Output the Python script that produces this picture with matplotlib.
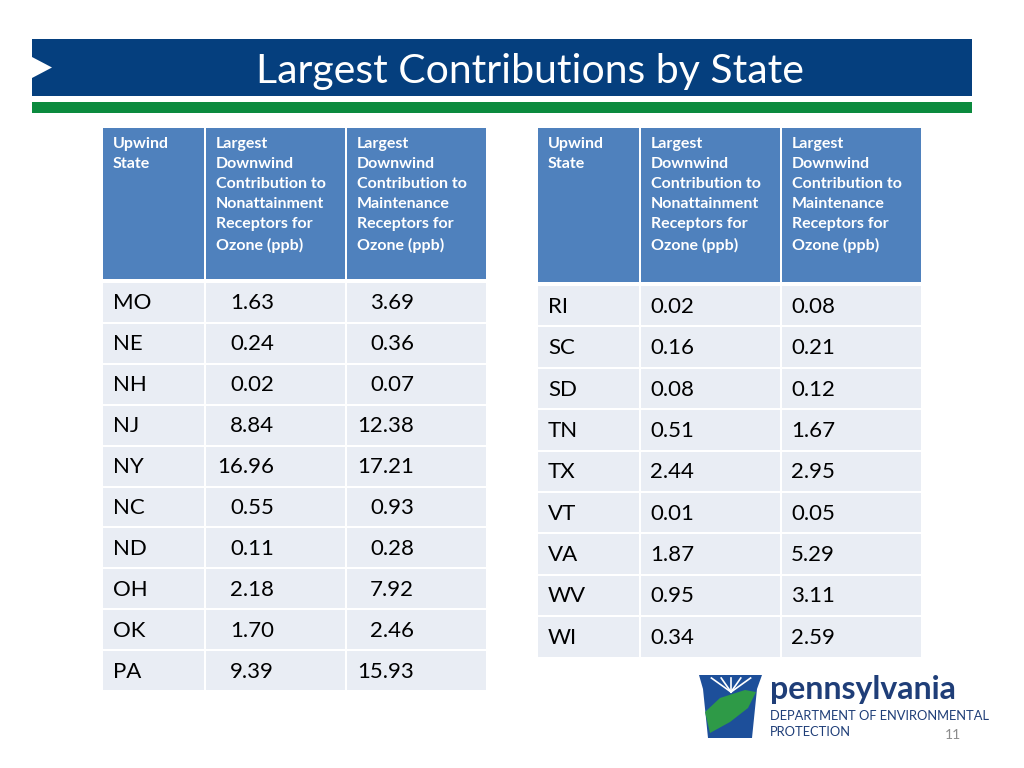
import matplotlib
matplotlib.use('Agg')
import matplotlib.pyplot as plt
from matplotlib.patches import Rectangle, Polygon

plt.rcParams['font.family'] = ['Lato', 'DejaVu Sans']

# ---- datos de las tablas ----
encabezados = ['Upwind\nState',
               'Largest\nDownwind\nContribution to\nNonattainment\nReceptors for\nOzone (ppb)',
               'Largest\nDownwind\nContribution to\nMaintenance\nReceptors for\nOzone (ppb)']

estados_izq = ['MO', 'NE', 'NH', 'NJ', 'NY', 'NC', 'ND', 'OH', 'OK', 'PA']
noatt_izq   = ['1.63', '0.24', '0.02', '8.84', '16.96', '0.55', '0.11', '2.18', '1.70', '9.39']
mant_izq    = ['3.69', '0.36', '0.07', '12.38', '17.21', '0.93', '0.28', '7.92', '2.46', '15.93']

estados_der = ['RI', 'SC', 'SD', 'TN', 'TX', 'VT', 'VA', 'WV', 'WI']
noatt_der   = ['0.02', '0.16', '0.08', '0.51', '2.44', '0.01', '1.87', '0.95', '0.34']
mant_der    = ['0.08', '0.21', '0.12', '1.67', '2.95', '0.05', '5.29', '3.11', '2.59']

AZUL_OSC = '#053F7E'
VERDE    = '#0B8A3E'
AZUL_ENC = '#4F81BD'
GRIS_FIL = '#E9EDF4'

fig = plt.figure(figsize=(10.24, 7.68), dpi=100)
ax = fig.add_axes([0, 0, 1, 1])
ax.set_xlim(0, 1024)
ax.set_ylim(768, 0)
ax.axis('off')

# ---- barra de título ----
ax.add_patch(Rectangle((32, 39), 940, 57, color=AZUL_OSC, lw=0))
ax.add_patch(Rectangle((32, 102), 940, 11, color=VERDE, lw=0))
ax.add_patch(Polygon([(32, 57), (52, 67.5), (32, 78)], color='white', lw=0))
ax.text(530, 71, 'Largest Contributions by State', color='white',
        fontsize=29.5, ha='center', va='center')


def dibujar_tabla(x0, anchos, y_enc, alto_enc, y_fil, alto_fil,
                  estados, col1, col2, alinear_der):
    xs = [x0]
    for w in anchos[:-1]:
        xs.append(xs[-1] + w + 2)
    # encabezado
    for x, w, txt in zip(xs, anchos, encabezados):
        ax.add_patch(Rectangle((x, y_enc), w, alto_enc, color=AZUL_ENC, lw=0))
        ax.text(x + 10, y_enc + 9, txt, color='white', fontsize=11.5,
                fontweight='bold', ha='left', va='top', linespacing=1.55)
    # filas
    for i, (st, a, b) in enumerate(zip(estados, col1, col2)):
        y = y_fil + i * alto_fil
        for x, w in zip(xs, anchos):
            ax.add_patch(Rectangle((x, y), w, alto_fil - 2, color=GRIS_FIL, lw=0))
        yc = y + (alto_fil - 2) / 2 + 1
        ax.text(xs[0] + 10, yc, st, fontsize=16, ha='left', va='center', color='black')
        if alinear_der:
            ax.text(xs[1] + 68, yc, a, fontsize=16, ha='right', va='center', color='black')
            ax.text(xs[2] + 67, yc, b, fontsize=16, ha='right', va='center', color='black')
        else:
            ax.text(xs[1] + 9, yc, a, fontsize=16, ha='left', va='center', color='black')
            ax.text(xs[2] + 9, yc, b, fontsize=16, ha='left', va='center', color='black')


dibujar_tabla(103, [101, 139, 139], 128, 151, 283, 40.9,
              estados_izq, noatt_izq, mant_izq, True)
dibujar_tabla(538, [101, 139, 139], 128, 154, 286, 41.4,
              estados_der, noatt_der, mant_der, False)

# ---- logo DEP ----
ax.add_patch(Polygon([(699, 675), (762, 675), (757, 689), (752, 738),
                      (708, 738), (703, 689)], color='#1D4F9A', lw=0))
ax.add_patch(Polygon([(705, 712), (720, 698), (745, 690), (756, 692),
                      (748, 708), (730, 722), (710, 733)], color='#2E9A47', lw=0))
for dx in [-14, -7, 0, 7, 14]:
    ax.plot([731, 731 + dx * 1.4], [692, 678], color='white', lw=1.2)
ax.text(770, 690, 'pennsylvania', color='#1F3E78', fontsize=23,
        fontweight='bold', ha='left', va='center')
ax.text(770, 716, 'DEPARTMENT OF ENVIRONMENTAL', color='#1F3E78', fontsize=9.3,
        ha='left', va='center')
ax.text(770, 732, 'PROTECTION', color='#1F3E78', fontsize=9.3,
        ha='left', va='center')
ax.text(953, 735, '11', color='#8C8C8C', fontsize=10, ha='center', va='center')

fig.savefig('out.png', dpi=100)
